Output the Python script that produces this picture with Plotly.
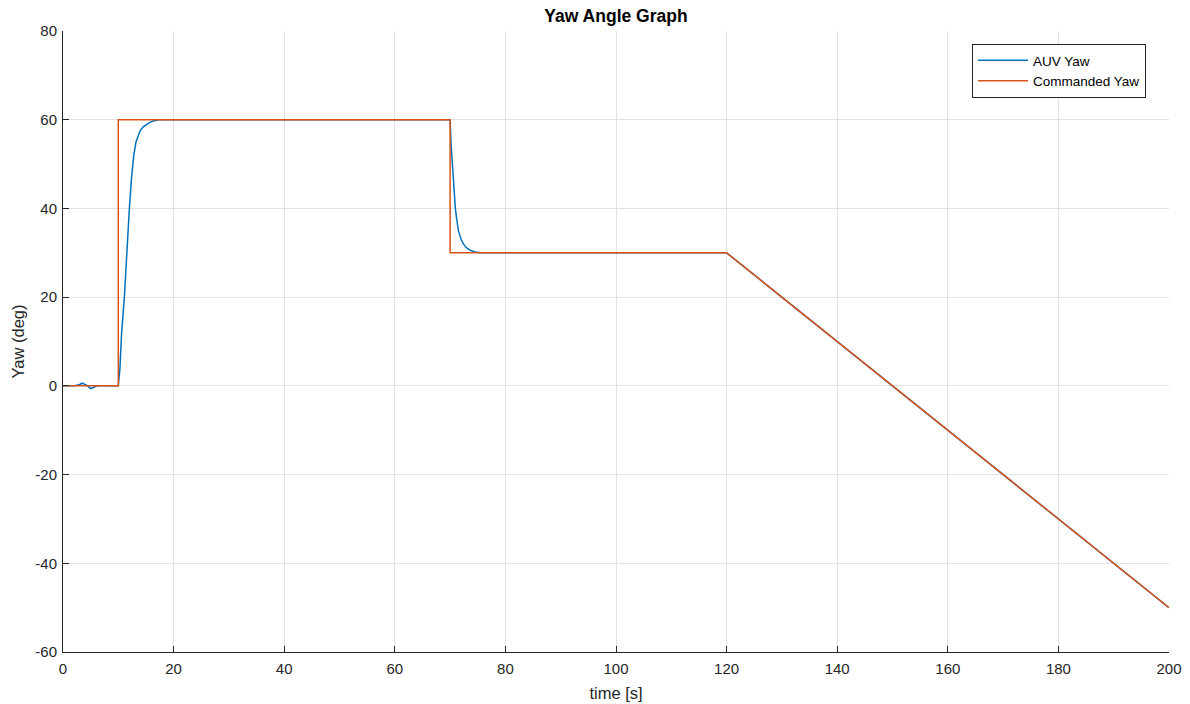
import plotly.graph_objects as go

# AUV yaw response
auv_t = [0, 2, 3.0, 3.5, 4.3, 5.0, 5.6, 6.2, 8, 10.0, 10.3, 10.6, 11.1, 11.5, 12.0, 12.4,
         12.8, 13.2, 13.9, 14.5, 15.1, 15.7, 16.3, 17.4, 20,
         70.0, 70.15, 70.35, 70.6, 70.95, 71.2, 71.5, 72.0, 72.4, 73.0, 73.6, 74.5, 75.5, 120, 200]
auv_yaw = [0, 0, 0.3, 0.6, 0.1, -0.6, -0.3, 0, 0, 0, 4, 12, 20, 30, 40, 47,
           52, 55, 57.4, 58.4, 58.9, 59.4, 59.7, 60, 60,
           60, 55, 51, 47, 40, 37.5, 35, 33, 32, 31.1, 30.6, 30.2, 30, 30, -50]

# Commanded yaw
cmd_t = [0, 10, 10, 70, 70, 120, 200]
cmd_yaw = [0, 0, 60, 60, 30, 30, -50]

x_ticks = [0, 20, 40, 60, 80, 100, 120, 140, 160, 180, 200]
y_ticks = [-60, -40, -20, 0, 20, 40, 60, 80]

fig = go.Figure()
fig.add_trace(go.Scatter(x=auv_t, y=auv_yaw, mode="lines", name="AUV Yaw",
                         line=dict(color="#0072BD", width=1.5)))
fig.add_trace(go.Scatter(x=cmd_t, y=cmd_yaw, mode="lines", name="Commanded Yaw",
                         line=dict(color="#D95319", width=1.5)))

font_fam = "Liberation Sans, Arial, Helvetica, sans-serif"
fig.update_layout(
    width=1190, height=704,
    margin=dict(l=63, r=21, t=31, b=52, autoexpand=False),
    paper_bgcolor="white", plot_bgcolor="white",
    font=dict(family=font_fam, size=15, color="#262626"),
    title=dict(text="<b>Yaw Angle Graph</b>", xref="paper", x=0.5, xanchor="center",
               yref="container", y=1 - 16 / 704, yanchor="middle",
               font=dict(size=17.5, color="#000000")),
    showlegend=True,
    legend=dict(x=(1146 - 63) / 1106, xanchor="right", y=1.0 - 13 / 621, yanchor="top",
                bgcolor="white", bordercolor="#262626", borderwidth=1,
                font=dict(size=13.5, color="#000000"), tracegroupgap=0, itemwidth=50),
)
fig.update_xaxes(range=[0, 200], tickvals=x_ticks, ticktext=[str(v) for v in x_ticks],
                 showgrid=True, gridcolor="#e3e3e3", gridwidth=1,
                 showline=True, linecolor="#262626", linewidth=1,
                 ticks="inside", ticklen=6, tickcolor="#262626", automargin=False,
                 ticklabelstandoff=3,
                 zeroline=False, title=dict(text="time [s]", standoff=11,
                                            font=dict(size=16.5)),
                 tickfont=dict(size=15))
fig.update_yaxes(range=[-60, 80], tickvals=y_ticks, ticktext=[str(v) for v in y_ticks],
                 showgrid=True, gridcolor="#e3e3e3", gridwidth=1,
                 showline=True, linecolor="#262626", linewidth=1,
                 ticks="inside", ticklen=6, tickcolor="#262626", automargin=False,
                 ticklabelstandoff=2,
                 zeroline=False, title=dict(text="Yaw (deg)", standoff=6,
                                            font=dict(size=16.5)),
                 tickfont=dict(size=15))

fig.write_html("out.html", config={"displayModeBar": False},
               post_script="document.body.style.margin='0';document.body.style.overflow='hidden';")
